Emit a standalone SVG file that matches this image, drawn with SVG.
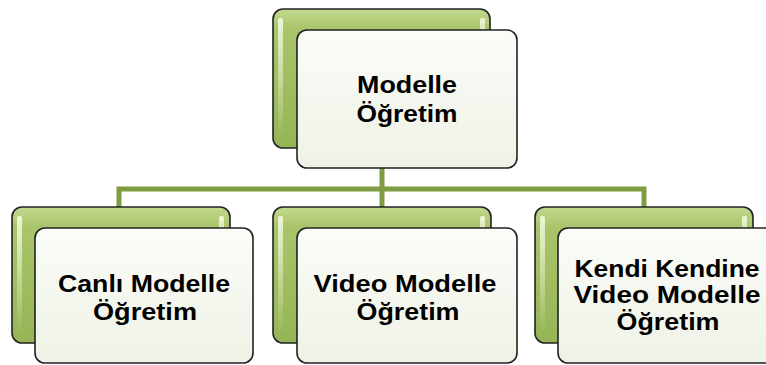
<svg xmlns="http://www.w3.org/2000/svg" width="766" height="365" viewBox="0 0 766 365">
  <defs>
    <linearGradient id="gBack" x1="0" y1="0" x2="0" y2="1">
      <stop offset="0" stop-color="#c3d98f"/>
      <stop offset="0.15" stop-color="#a9c46a"/>
      <stop offset="1" stop-color="#95b555"/>
    </linearGradient>
    <linearGradient id="gFront" x1="0" y1="0" x2="0" y2="1">
      <stop offset="0" stop-color="#fbfcf8"/>
      <stop offset="1" stop-color="#eef2e6"/>
    </linearGradient>
    <linearGradient id="gShine" x1="0" y1="0" x2="0" y2="1">
      <stop offset="0" stop-color="#f4fadf" stop-opacity="0.9"/>
      <stop offset="1" stop-color="#f4fadf" stop-opacity="0"/>
    </linearGradient>
  </defs>
  <style>
    .back { fill: url(#gBack); stroke: #222; stroke-width: 1.6; }
    .front { fill: url(#gFront); stroke: #222; stroke-width: 1.6; }
    .shine { fill: url(#gShine); }
    .link { fill: none; stroke: #7f9c42; stroke-width: 5; }
    .lbl { font-family: "Liberation Sans", Arial, sans-serif; font-weight: bold; font-size: 24px; fill: #000; text-anchor: middle; }
  </style>

  <!-- connectors -->
  <g id="connectors">
    <path class="link" d="M382 168 V207"/>
    <path class="link" d="M119 207 V189 H644 V207"/>
  </g>

  <!-- root -->
  <g id="root">
    <rect class="back" x="273" y="9" width="217" height="139" rx="10"/>
    <rect class="shine" x="278" y="18" width="5" height="120" rx="2"/>
    <rect class="shine" x="480" y="18" width="5" height="40" rx="2"/>
    <rect class="front" x="297" y="30" width="220" height="138" rx="10"/>
    <text class="lbl" x="407" y="93" textLength="100" lengthAdjust="spacingAndGlyphs">Modelle</text>
    <text class="lbl" x="407" y="122" textLength="101" lengthAdjust="spacingAndGlyphs">Öğretim</text>
  </g>

  <!-- child: live modelling -->
  <g id="canli">
    <rect class="back" x="12" y="207" width="218" height="136" rx="10"/>
    <rect class="shine" x="17" y="216" width="5" height="118" rx="2"/>
    <rect class="shine" x="219" y="216" width="5" height="40" rx="2"/>
    <rect class="front" x="35" y="228" width="218" height="135" rx="10"/>
    <text class="lbl" x="144" y="292" textLength="172" lengthAdjust="spacingAndGlyphs">Canlı Modelle</text>
    <text class="lbl" x="145" y="320" textLength="104" lengthAdjust="spacingAndGlyphs">Öğretim</text>
  </g>

  <!-- child: video modelling -->
  <g id="video">
    <rect class="back" x="273" y="207" width="218" height="136" rx="10"/>
    <rect class="shine" x="278" y="216" width="5" height="118" rx="2"/>
    <rect class="shine" x="480" y="216" width="5" height="40" rx="2"/>
    <rect class="front" x="297" y="228" width="220" height="135" rx="10"/>
    <text class="lbl" x="405" y="292" textLength="183" lengthAdjust="spacingAndGlyphs">Video Modelle</text>
    <text class="lbl" x="408" y="320" textLength="103" lengthAdjust="spacingAndGlyphs">Öğretim</text>
  </g>

  <!-- child: self video modelling -->
  <g id="kendi">
    <rect class="back" x="535" y="207" width="218" height="136" rx="10"/>
    <rect class="shine" x="540" y="216" width="5" height="118" rx="2"/>
    <rect class="shine" x="742" y="216" width="5" height="40" rx="2"/>
    <rect class="front" x="558" y="228" width="220" height="135" rx="10"/>
    <text class="lbl" x="667" y="277" textLength="185" lengthAdjust="spacingAndGlyphs">Kendi Kendine</text>
    <text class="lbl" x="667" y="303" textLength="187" lengthAdjust="spacingAndGlyphs">Video Modelle</text>
    <text class="lbl" x="668" y="330" textLength="103" lengthAdjust="spacingAndGlyphs">Öğretim</text>
  </g>
</svg>
